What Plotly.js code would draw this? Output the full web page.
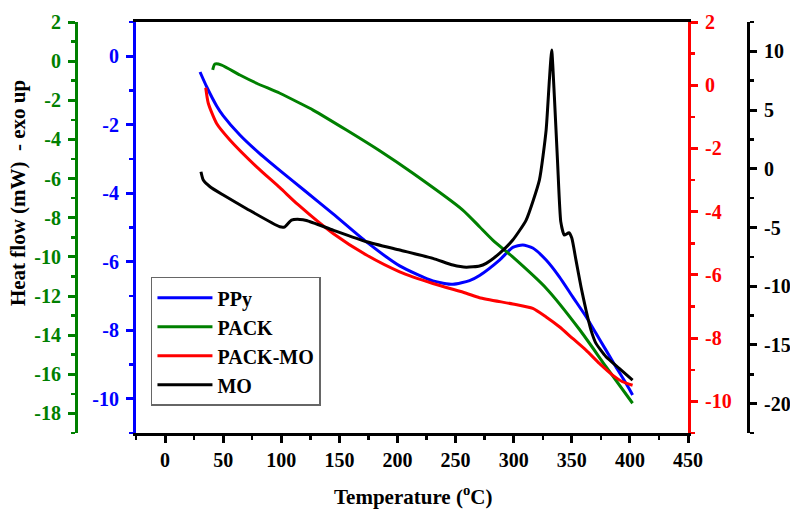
<!DOCTYPE html>
<html><head><meta charset="utf-8">
<script src="https://cdn.plot.ly/plotly-3.0.1.min.js"></script>
<style>body{margin:0;background:#fff}#chart{width:790px;height:509px}</style>
</head><body><div id="chart"></div>
<script>
// ---- data (Temperature in °C, heat flow in mW on each series' own axis) ----
const ppyT = [30.1, 35.8, 44.4, 50.1, 64.4, 80.0, 100.0, 120.0, 144.6, 173.3, 201.9, 230.5, 247.7, 262.0, 270.6, 287.8, 299.2, 307.8, 316.4, 327.9, 339.3, 350.7, 362.2, 370.8, 379.4, 388.0, 396.6, 402.3];
const ppyY = [-0.46, -0.89, -1.45, -1.74, -2.30, -2.80, -3.37, -3.92, -4.60, -5.42, -6.12, -6.56, -6.66, -6.55, -6.40, -5.95, -5.58, -5.51, -5.60, -5.95, -6.44, -7.02, -7.60, -8.09, -8.58, -9.07, -9.55, -9.89];

const packT = [41.0, 42.9, 48.7, 64.4, 78.8, 98.8, 116.0, 127.4, 156.1, 184.7, 213.3, 256.2, 270.6, 282.0, 298.9, 327.9, 356.5, 379.4, 402.3];
const packY = [-0.45, -0.15, -0.20, -0.71, -1.13, -1.64, -2.15, -2.50, -3.52, -4.58, -5.73, -7.61, -8.46, -9.14, -9.99, -11.60, -13.70, -15.61, -17.48];

const packMoT = [35.0, 37.2, 44.4, 55.8, 78.8, 98.8, 114.5, 144.6, 173.3, 201.9, 230.5, 259.2, 270.6, 299.2, 316.4, 327.9, 339.3, 350.7, 362.2, 373.7, 385.1, 393.7, 402.3];
const packMoY = [-0.08, -0.57, -1.21, -1.73, -2.58, -3.24, -3.78, -4.69, -5.37, -5.90, -6.27, -6.58, -6.72, -6.92, -7.06, -7.33, -7.64, -8.01, -8.38, -8.80, -9.17, -9.38, -9.49];

const moT = [30.9, 32.9, 38.7, 50.1, 70.2, 98.8, 103.1, 108.8, 116.0, 121.7, 144.6, 173.3, 201.9, 230.5, 247.7, 259.2, 270.6, 276.3, 287.8, 299.2, 310.7, 322.1, 327.9, 330.7, 332.7, 335.0, 337.8, 340.5, 343.5, 347.5, 350.0, 353.6, 357.9, 362.2, 366.5, 370.8, 379.4, 390.8, 402.3];
const moY = [-0.25, -0.96, -1.53, -2.24, -3.40, -4.94, -4.94, -4.37, -4.31, -4.40, -5.22, -6.21, -6.92, -7.63, -8.20, -8.39, -8.28, -8.05, -7.20, -6.07, -4.37, -0.96, 3.30, 7.56, 10.11, 6.14, 0.46, -4.50, -5.65, -5.45, -5.90, -7.78, -10.05, -12.03, -13.74, -14.87, -16.00, -16.99, -17.99];

const seriesNames = ['PPy', 'PACK', 'PACK-MO', 'MO'];

const xTickVals = [0, 50, 100, 150, 200, 250, 300, 350, 400, 450];
const greenTickVals = [2, 0, -2, -4, -6, -8, -10, -12, -14, -16, -18];
const blueTickVals = [0, -2, -4, -6, -8, -10];
const redTickVals = [2, 0, -2, -4, -6, -8, -10];
const blackTickVals = [10, 5, 0, -5, -10, -15, -20];
const lbl = v => String(v); // hyphen-minus like the original

const xTitle = 'Temperature (<sup>o</sup>C)';
const yTitle = 'Heat flow (mW)  - exo up';

// ---- styles ----
const FONT = 'Liberation Serif, Times New Roman, serif';
const GREEN = '#008000', BLUE = '#0000ff', RED = '#ff0000', BLACK = '#000000';
const TICKSIZE = 20;

function yAxis(color, range, tickvals, minorDtick, extra) {
  return Object.assign({
    range: range, tickvals: tickvals, ticktext: tickvals.map(lbl),
    showgrid: false, zeroline: false, showline: true, linecolor: color, linewidth: 3,
    ticks: 'outside', ticklen: 7, tickwidth: 3, tickcolor: color,
    minor: {dtick: minorDtick, tick0: 0, ticks: 'outside', ticklen: 4, tickwidth: 2.5, tickcolor: color, showgrid: false},
    tickfont: {family: FONT, size: TICKSIZE, color: color, weight: 'bold'},
    ticklabelstandoff: 3,
    fixedrange: true
  }, extra);
}

const traces = [
  {x: ppyT, y: ppyY, name: seriesNames[0], yaxis: 'y', line: {color: BLUE, width: 3, shape: 'spline', smoothing: 0.6}},
  {x: packT, y: packY, name: seriesNames[1], yaxis: 'y2', line: {color: GREEN, width: 3, shape: 'spline', smoothing: 0.6}},
  {x: packMoT, y: packMoY, name: seriesNames[2], yaxis: 'y3', line: {color: RED, width: 3, shape: 'spline', smoothing: 0.6}},
  {x: moT, y: moY, name: seriesNames[3], yaxis: 'y4', line: {color: BLACK, width: 3, shape: 'spline', smoothing: 0.5}}
].map(t => Object.assign({type: 'scatter', mode: 'lines', hoverinfo: 'skip'}, t));

const layout = {
  width: 790, height: 509,
  margin: {l: 40, r: 20, t: 22, b: 76},
  paper_bgcolor: '#fff', plot_bgcolor: '#fff',
  showlegend: true,
  legend: {
    x: 0.152, y: 0.38, xanchor: 'left', yanchor: 'top',
    bgcolor: '#fff', bordercolor: '#666', borderwidth: 1.5,
    font: {family: FONT, size: 20, color: BLACK, weight: 'bold'},
    itemwidth: 55, tracegroupgap: 0, entrywidth: 118
  },
  xaxis: {
    domain: [0.1315, 0.8877], range: [-25, 450],
    tickvals: xTickVals, ticktext: xTickVals.map(lbl),
    showgrid: false, zeroline: false, showline: true, linecolor: BLACK, linewidth: 3, mirror: true,
    ticks: 'outside', ticklen: 7, tickwidth: 3, tickcolor: BLACK,
    minor: {dtick: 25, tick0: 0, ticks: 'outside', ticklen: 4, tickwidth: 2.5, tickcolor: BLACK, showgrid: false},
    tickfont: {family: FONT, size: TICKSIZE, color: BLACK, weight: 'bold'},
    fixedrange: true
  },
  yaxis: yAxis(BLUE, [-11, 1], blueTickVals, 1, {anchor: 'x', side: 'left'}),
  yaxis2: yAxis(GREEN, [-19, 2], greenTickVals, 1, {overlaying: 'y', anchor: 'free', position: 0.0493, side: 'left'}),
  yaxis3: yAxis(RED, [-11, 2], redTickVals, 1, {overlaying: 'y', anchor: 'x', side: 'right'}),
  yaxis4: yAxis(BLACK, [-22.5, 12.5], blackTickVals, 2.5, {overlaying: 'y', anchor: 'free', position: 0.9699, side: 'right'}),
  annotations: [
    {text: yTitle, xref: 'paper', yref: 'paper', x: -0.030, y: 0.584, textangle: -90, showarrow: false,
     xanchor: 'center', yanchor: 'middle', font: {family: FONT, size: 21, color: BLACK, weight: 'bold'}},
    {text: xTitle, xref: 'paper', yref: 'paper', x: 0.511, y: -0.151, showarrow: false,
     xanchor: 'center', yanchor: 'middle', font: {family: FONT, size: 21, color: BLACK, weight: 'bold'}}
  ]
};

Plotly.newPlot('chart', traces, layout, {staticPlot: true, displayModeBar: false});
</script></body></html>
